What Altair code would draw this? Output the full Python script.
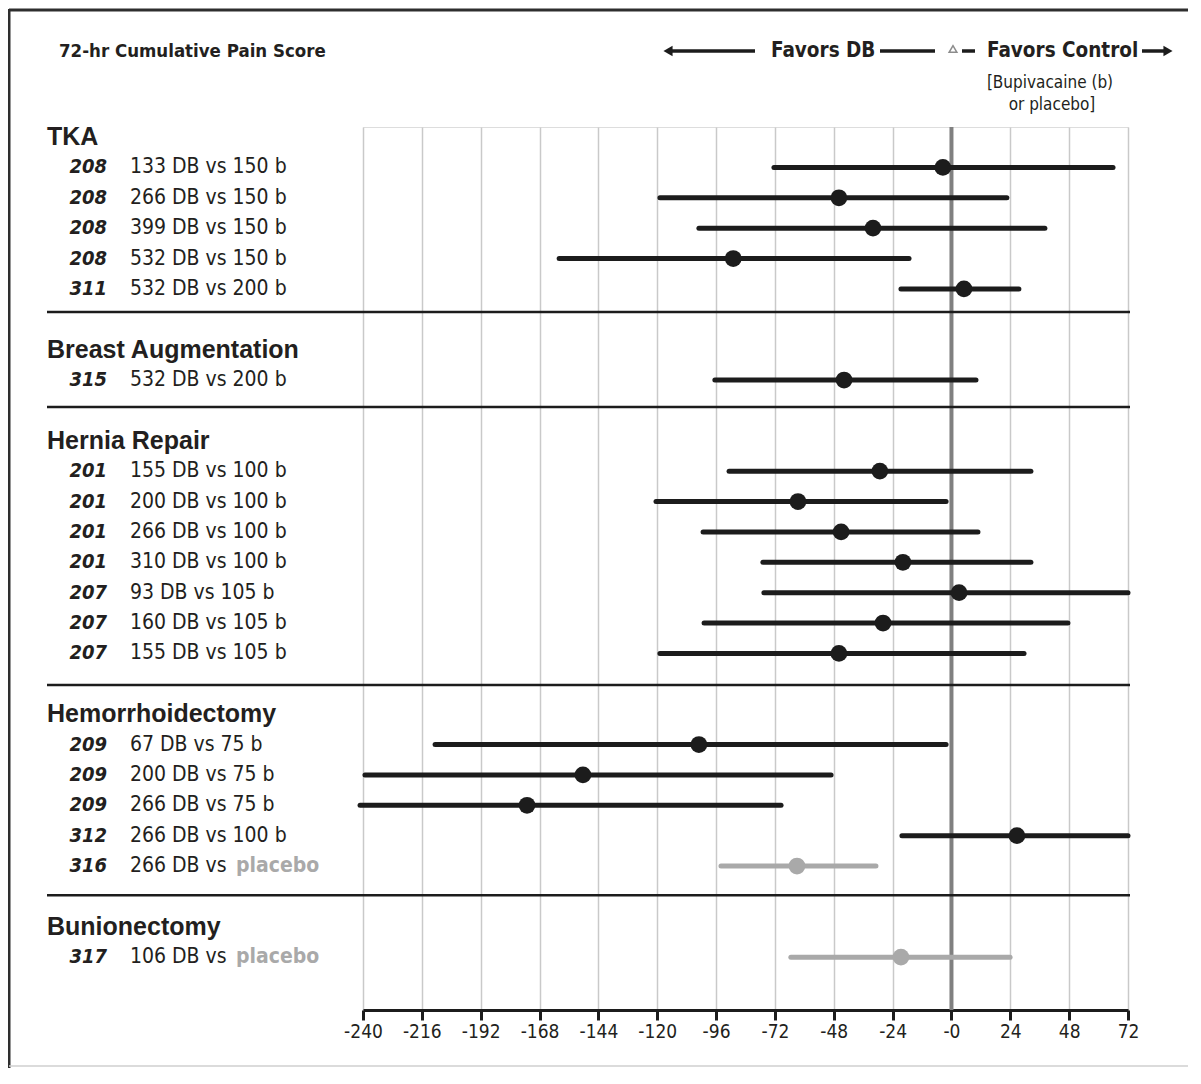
import altair as alt
import pandas as pd

# ---------------- data ----------------
group_names = ["TKA", "Breast Augmentation", "Hernia Repair", "Hemorrhoidectomy", "Bunionectomy"]
group_slots = [0, 7, 10, 19, 26]
separator_slots = [5.76, 8.89, 18.04, 24.96]

studies = ["208", "208", "208", "208", "311",
           "315",
           "201", "201", "201", "201", "207", "207", "207",
           "209", "209", "209", "312", "316",
           "317"]
comparisons = ["133 DB vs 150 b", "266 DB vs 150 b", "399 DB vs 150 b", "532 DB vs 150 b", "532 DB vs 200 b",
               "532 DB vs 200 b",
               "155 DB vs 100 b", "200 DB vs 100 b", "266 DB vs 100 b", "310 DB vs 100 b",
               "93 DB vs 105 b", "160 DB vs 105 b", "155 DB vs 105 b",
               "67 DB vs 75 b", "200 DB vs 75 b", "266 DB vs 75 b", "266 DB vs 100 b", "266 DB vs",
               "106 DB vs"]
placebo_labels = ["", "", "", "", "",
                  "",
                  "", "", "", "", "", "", "",
                  "", "", "", "", "placebo",
                  "placebo"]
control_type = ["b", "b", "b", "b", "b",
                "b",
                "b", "b", "b", "b", "b", "b", "b",
                "b", "b", "b", "b", "placebo",
                "placebo"]
row_slots = [1, 2, 3, 4, 5,
             8,
             11, 12, 13, 14, 15, 16, 17,
             20, 21, 22, 23, 24,
             27]
estimates = [-3.5, -45.9, -32.0, -89.0, 5.1,
             -43.8,
             -29.2, -62.6, -45.0, -19.8, 3.1, -27.9, -45.9,
             -103.0, -150.3, -173.1, 26.7, -63.0,
             -20.6]
ci_low = [-72.4, -118.9, -103.0, -160.0, -20.6,
          -96.5,
          -90.7, -120.5, -101.3, -76.9, -76.5, -100.9, -118.9,
          -210.6, -239.2, -241.2, -20.2, -94.0,
          -65.5]
ci_high = [65.9, 22.6, 38.1, -17.3, 27.5,
           10.0,
           32.4, -2.2, 10.8, 32.4, 72.0, 47.5, 29.6,
           -2.2, -49.1, -69.5, 72.0, -30.8,
           23.9]
tick_values = [-240, -216, -192, -168, -144, -120, -96, -72, -48, -24, 0, 24, 48, 72]

rows = pd.DataFrame({
    "study": studies, "comparison": comparisons, "placebo": placebo_labels,
    "control": control_type, "slot": row_slots,
    "est": estimates, "lo": ci_low, "hi": ci_high,
})
groups = pd.DataFrame({"name": group_names, "slot": group_slots})
seps = pd.DataFrame({"slot": separator_slots})
zero = pd.DataFrame({"zero": [0]})
one = pd.DataFrame({"a": [0]})

# ---------------- style ----------------
BLACK = "#1c1c1c"
GRAY = "#a9a9a9"
TEXT = "#231f20"
NARROW = "'DejaVu Sans Condensed', 'Liberation Sans Narrow', sans-serif"
WIDE = "'Liberation Sans', Arial, sans-serif"

W, H = 765, 883
xs = alt.Scale(domain=[-240, 72], nice=False, zero=False)
ys = alt.Scale(domain=[-0.33, 28.74], reverse=True, nice=False, zero=False)
xaxis = alt.Axis(
    values=tick_values, title=None, grid=True, gridColor="#c9c9c9", gridWidth=1.5,
    domainColor=BLACK, domainWidth=3, tickColor=BLACK, tickWidth=3, tickSize=10,
    labelFont=NARROW, labelFontSize=19, labelColor=TEXT, labelPadding=2,
    labelOverlap=False, labelFlush=False,
    labelExpr="datum.value <= 0 ? '-' + abs(datum.value) : '' + datum.value",
)
color = alt.Color("control:N", scale=alt.Scale(domain=["b", "placebo"], range=[BLACK, GRAY]), legend=None)
Y = alt.Y("slot:Q", scale=ys, axis=None)

zero_line = alt.Chart(zero).mark_rule(color="#808080", strokeWidth=4).encode(
    x=alt.X("zero:Q", scale=xs, axis=xaxis)
)

separators = alt.Chart(seps).mark_rule(color=BLACK, strokeWidth=2.5).encode(
    x=alt.value(-316), x2=alt.value(767), y=Y
)

ci = alt.Chart(rows).mark_rule(strokeWidth=5, strokeCap="round").encode(
    x=alt.X("lo:Q", scale=xs, axis=xaxis), x2="hi:Q", y=Y, color=color
)
pts = alt.Chart(rows).mark_circle(size=280, opacity=1).encode(
    x=alt.X("est:Q", scale=xs, axis=xaxis), y=Y, color=color
)

group_text = alt.Chart(groups).mark_text(
    align="left", baseline="middle", font=WIDE, fontWeight="bold", fontSize=25, color=TEXT
).encode(x=alt.value(-316), y=Y, text="name:N")

study_text = alt.Chart(rows).mark_text(
    align="right", baseline="middle", font=NARROW, fontWeight="bold", fontStyle="italic",
    fontSize=20, color=TEXT
).encode(x=alt.value(-256), y=Y, text="study:N")

comp_text = alt.Chart(rows).mark_text(
    align="left", baseline="middle", font=NARROW, fontSize=21, color=TEXT
).encode(x=alt.value(-233), y=Y, text="comparison:N")

plac_text = alt.Chart(rows).mark_text(
    align="left", baseline="middle", font=NARROW, fontWeight="bold", fontSize=21, color=GRAY
).encode(x=alt.value(-127), y=Y, text="placebo:N")

# ---------------- header ----------------
HY = -76
def txt(s, x, y, align="left", weight="bold", size=24, col=TEXT):
    return alt.Chart(one).mark_text(
        text=s, align=align, baseline="middle", font=NARROW, fontWeight=weight, fontSize=size, color=col
    ).encode(x=alt.value(x), y=alt.value(y))

def hline(x1, x2, y, w=3.5, col=BLACK):
    return alt.Chart(one).mark_rule(color=col, strokeWidth=w).encode(
        x=alt.value(x1), x2=alt.value(x2), y=alt.value(y))

def symbol(shape, x, y, size, filled=True, col=BLACK):
    return alt.Chart(one).mark_point(shape=shape, filled=filled, size=size, color=col,
                                     opacity=1, strokeWidth=1.5).encode(
        x=alt.value(x), y=alt.value(y))

header = [
    txt("72-hr Cumulative Pain Score", -304, HY, size=18.5),
    hline(306, 392, HY),
    symbol("triangle-left", 305, HY, 110),
    txt("Favors DB", 408, HY, size=20.5),
    hline(517, 572, HY),
    symbol("triangle-up", 590, HY - 2, 60, filled=False, col="#8c8c8c"),
    hline(599, 612, HY),
    txt("Favors Control", 624, HY, size=20.5),
    hline(779, 802, HY),
    symbol("triangle-right", 805, HY, 110),
    txt("[Bupivacaine (b)", 687, -44, align="center", weight="normal", size=17),
    txt("or placebo]", 689, -22, align="center", weight="normal", size=17),
]

frame = [
    alt.Chart(one).mark_rule(color="#2e2e2e", strokeWidth=3).encode(
        x=alt.value(-354), y=alt.value(-118), y2=alt.value(H + 58)),
    alt.Chart(one).mark_rule(color="#2e2e2e", strokeWidth=3).encode(
        x=alt.value(-354), x2=alt.value(W + 60), y=alt.value(-117)),
    alt.Chart(one).mark_rule(color="#cfcfcf", strokeWidth=1.5).encode(
        x=alt.value(-354), x2=alt.value(W + 60), y=alt.value(H + 56)),
]

chart = alt.layer(
    zero_line, separators, ci, pts, group_text, study_text, comp_text, plac_text, *header, *frame
).properties(
    width=W, height=H,
    padding={"left": 355, "top": 119, "right": 60, "bottom": 58},
    autosize=alt.AutoSizeParams(type="none"),
).configure_view(stroke=None).configure(background="white")

chart.save("out.html", embed_options={"renderer": "svg", "actions": False})
